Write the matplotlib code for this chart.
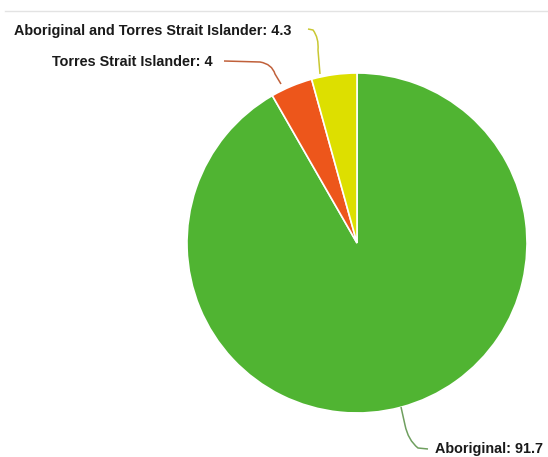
import matplotlib
matplotlib.use("Agg")
import matplotlib.pyplot as plt
from matplotlib.path import Path
from matplotlib.patches import PathPatch

categories = ["Aboriginal", "Torres Strait Islander", "Aboriginal and Torres Strait Islander"]
values = [91.7, 4.0, 4.3]
colors = ["#50B432", "#ED561B", "#DDDF00"]
line_colors = ["#6f9f5f", "#c0603a", "#c9c832"]
labels = [f"{c}: {v:g}" for c, v in zip(categories, values)]

W, H = 548, 457
fig = plt.figure(figsize=(W / 100, H / 100), dpi=100)
ax = fig.add_axes([0, 0, 1, 1])

cx, cy, r = 357, H - 243, 170
ax.pie(values, colors=colors, startangle=90, counterclock=False,
       center=(cx, cy), radius=r,
       wedgeprops=dict(edgecolor="white", linewidth=1.2))
ax.set_xlim(0, W)
ax.set_ylim(0, H)
ax.set_aspect("equal")
ax.axis("off")

# top rule
ax.plot([5, W], [H - 11, H - 11], color="#e3e3e3", lw=1)

def Y(y):
    return H - y

# connectors (pixel coords from top)
conns = [
    ([(401, 407), (405, 425), (408, 440), (418, 448), (428, 449)], line_colors[0]),
    ([(281, 84), (275, 74), (272, 64), (260, 62), (224, 61)], line_colors[1]),
    ([(320, 74), (318, 50), (319, 38), (313, 30), (308, 29)], line_colors[2]),
]
for pts, col in conns:
    verts = [(x, Y(y)) for x, y in pts]
    codes = [Path.MOVETO, Path.LINETO, Path.CURVE3, Path.CURVE3, Path.LINETO]
    ax.add_patch(PathPatch(Path(verts, codes), fill=False, edgecolor=col, lw=1.1))

fs = 10.4
kw = dict(fontsize=fs, fontweight="bold", color="#1a1a1a", family="Liberation Sans", va="center")
ax.text(435, Y(449), labels[0], ha="left", **kw)
ax.text(213, Y(62), labels[1], ha="right", **kw)
ax.text(291, Y(31), labels[2], ha="right", **kw)

fig.savefig("out.png", dpi=100, facecolor="white")
